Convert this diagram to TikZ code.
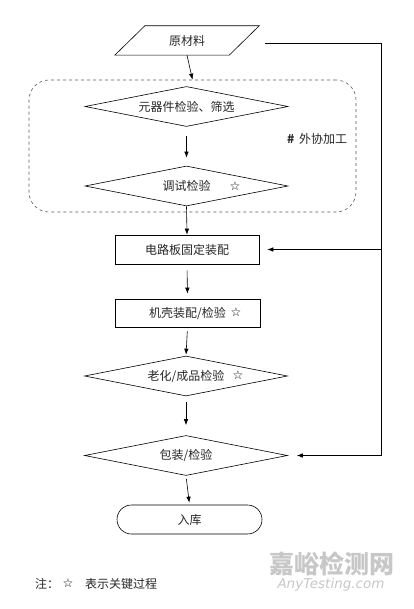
\documentclass[tikz,border=0pt]{standalone}
\usepackage{fontspec}
\setmainfont{Noto Sans CJK SC}
\newfontfamily\symfont{DejaVu Sans}
\newfontfamily\wmfont{DejaVu Sans}
\usetikzlibrary{shapes.geometric,arrows.meta}
\begin{document}
\begin{tikzpicture}[x=1pt,y=-1pt,
  every node/.style={font=\fontsize{12}{14}\selectfont, text=black!85},
  box/.style={draw, rectangle, minimum width=144pt, minimum height=29pt, inner sep=0pt, line width=0.6pt},
  dia/.style={draw, diamond, aspect=5, minimum width=203pt, minimum height=40pt, inner sep=0pt, line width=0.6pt},
  arr/.style={-{Latex[length=6pt,width=4.5pt]}, line width=0.6pt},
  ln/.style={line width=0.6pt},
  starlbl/.style={font=\symfont\fontsize{12}{13}\selectfont, text=black},
  wm/.style={text=black!22, inner sep=0pt}
]
\useasboundingbox (0,0) rectangle (413,609);
% raw material (parallelogram)
\node[minimum width=144pt, minimum height=29pt, inner sep=0pt] (raw) at (187,40.5) {原材料};
\draw[ln] ([xshift=30pt]raw.north west) -- (raw.north east) -- ([xshift=-30pt]raw.south east) -- (raw.south west) -- cycle;
% outsourced group
\node[draw=black!65, dashed, rounded corners=20pt, minimum width=327pt, minimum height=132pt, line width=0.6pt] (ext) at (192.5,146) {};
\node (extlbl) at (317,139) {\textbf{\#}\, 外协加工};
\node[dia] (d1) at (186.5,106.5) {元器件检验、筛选};
\node[dia] (d2) at (186.5,186) {调试检验};
\node[starlbl] (s2) at (235,186) {☆};
\node[box] (r1) at (187,249.5) {电路板固定装配};
\node[box, minimum width=145pt, minimum height=28pt] (r2) at (187.5,313) {机壳装配/检验};
\node[starlbl] (s5) at (236,312) {☆};
\node[dia] (d3) at (186,376) {老化/成品检验};
\node[starlbl] (s6) at (238,375) {☆};
\node[dia] (d4) at (186,455.5) {包装/检验};
\node[draw, rectangle, rounded corners=14.5pt, minimum width=145pt, minimum height=29pt, line width=0.6pt] (fin) at (189.5,519.5) {入库};
% flow
\draw[arr] (raw.south) -- (ext.north);
\draw[arr, shorten <=9pt, shorten >=8pt] (d1.south) -- (d2.north);
\draw[arr] (d2.south) -- (r1.north);
\draw[arr, shorten <=6pt, shorten >=5pt] (r1.south) -- (r2.north);
\draw[arr, shorten <=4pt, shorten >=1pt] (r2.south) -- (d3.north);
\draw[arr, shorten <=6pt, shorten >=10pt] (d3.south) -- (d4.north);
\draw[arr, shorten <=3pt, shorten >=2pt] (d4.south) -- (fin.north);
% bypass loop
\coordinate (lp0) at (265,43);
\coordinate (lp1) at (381,43);
\coordinate (lp3) at (381,456);
\draw[ln] (lp0) -- (lp1) -- (lp1 |- d4.east);
\draw[arr, shorten >=8pt] (lp1 |- r1.east) -- (r1.east);
\draw[arr, shorten >=9pt] (lp1 |- d4.east) -- (d4.east);
% note
\node[anchor=west, inner sep=0pt] (n1) at (35,584) {注：};
\node[starlbl] (n2) at (68,583) {☆};
\node[anchor=west, inner sep=0pt] (n3) at (85,584) {表示关键过程};
% watermark
\node[wm, font=\fontsize{25}{27}\selectfont\bfseries] (wm1) at (331.5,564) {嘉峪检测网};
\node[wm, font=\wmfont\itshape\fontsize{13.5}{15}\selectfont] (wm2) at (331,584.5) {AnyTesting.com};
\end{tikzpicture}
\end{document}
